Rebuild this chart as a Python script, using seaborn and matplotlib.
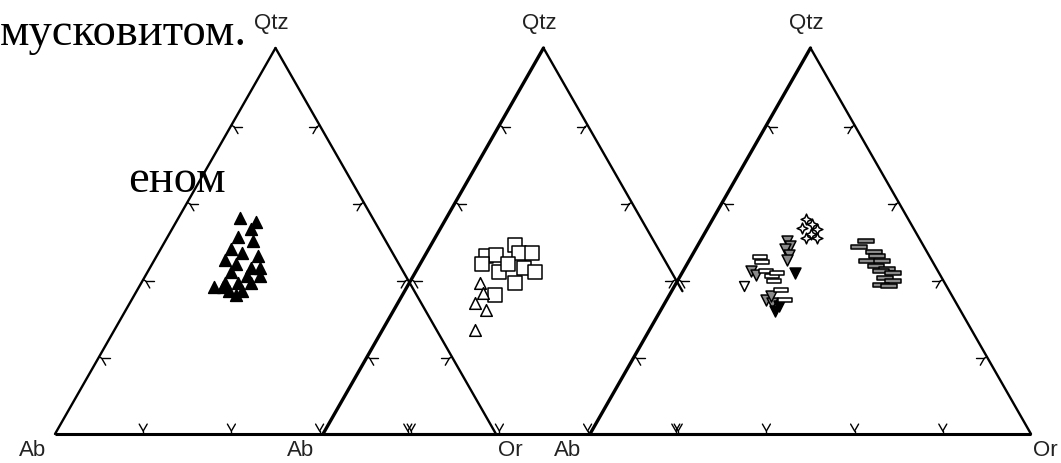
import numpy as np
import pandas as pd
import seaborn as sns
import matplotlib.pyplot as plt
from matplotlib.path import Path

sns.set_style("white")
plt.rcParams["font.family"] = ["Liberation Sans", "DejaVu Sans"]

# compositions in % (Qtz, Or); Ab is the remainder
# diagram 1
d1_tri_qtz = [56, 55, 53, 51, 50, 48, 47, 46, 45, 44, 43, 43, 42, 41, 41, 39, 39, 39, 38, 38, 37, 37, 36]
d1_tri_or = [14, 18, 18, 16, 20, 16, 19, 23, 16, 19, 23, 25, 19, 23, 26, 19, 22, 25, 17, 19, 21, 24, 23]

# diagram 2
d2_sq_qtz = [49, 47, 47, 46, 46.5, 44, 42, 44, 43, 42, 39, 36]
d2_sq_or = [19, 21, 24, 14, 16, 14, 19, 20, 24, 27, 24, 21]
d2_tri_qtz = [39, 36.5, 34, 32, 27]
d2_tri_or = [16, 18, 17.5, 21, 21]

# diagram 3
d3_star_qtz = [55.6, 54.3, 53.4, 53, 51.7, 50.8, 50.8]
d3_star_or = [21.1, 23.2, 21.4, 25, 24.2, 23.5, 26.1]
d3_gray_tri_qtz = [50, 48.7, 47.8, 46.5, 45.2, 42.2, 41.3, 34.8, 33.9, 35.7]
d3_gray_tri_or = [19.7, 21.1, 20.4, 21.8, 22.1, 15.3, 16.9, 22.4, 24.3, 23.1]
d3_black_tri_qtz = [41.7, 33.1, 31.9]
d3_black_tri_or = [25.7, 26.2, 26.1]
d3_white_tri_qtz = [38.3]
d3_white_tri_or = [15.7]
d3_white_bar_qtz = [45.8, 44.6, 42.2, 40.9, 41.7, 39.7, 37.2, 34.8]
d3_white_bar_or = [15.7, 16.7, 18.7, 20.9, 21.6, 21.8, 24.6, 26.9]
d3_gray_bar_qtz = [50, 48.5, 47.1, 46.1, 44.8, 44.8, 43.5, 42.8, 42.2, 41.6, 40.4, 39.6, 38.7, 38.3]
d3_gray_bar_or = [37.5, 36.7, 40.9, 42.1, 40.5, 43.9, 43.0, 46.0, 44.8, 47.8, 46.8, 48.8, 46.6, 48.7]

ORIGINS = [55, 323, 590]   # x of the Ab corner of each diagram (pixels)
BASE_Y = 434
SIDE = 441
HEIGHT = 386


def to_xy(qtz, orc, x0):
    q = np.asarray(qtz, float) / 100
    o = np.asarray(orc, float) / 100
    return pd.DataFrame({"x": x0 + SIDE * (o + q / 2), "y": BASE_Y - HEIGHT * q})


def draw_triangle(ax, x0, lw_left=1.7, lw_right=1.7, right_stop=0.0, or_label=True):
    A = np.array([x0, BASE_Y], float)
    O = np.array([x0 + SIDE, BASE_Y], float)
    Q = np.array([x0 + SIDE / 2, BASE_Y - HEIGHT], float)
    R = O + right_stop * (Q - O)
    ax.plot([A[0], O[0]], [A[1], O[1]], color="black", lw=2.2, solid_capstyle="butt")
    ax.plot([A[0], Q[0]], [A[1], Q[1]], color="black", lw=lw_left)
    ax.plot([Q[0], R[0]], [Q[1], R[1]], color="black", lw=lw_right)
    s3 = np.sqrt(3) / 2
    edges = [
        (A, O, (0, -1), [(-0.5, -s3), (0.5, -s3)], 0),
        (A, Q, (s3, 0.5), [(1, 0), (0.5, s3)], 0),
        (O, Q, (-s3, 0.5), [(-1, 0), (-0.5, s3)], right_stop),
    ]
    for start, end, n, arms, stop in edges:
        for f in [0.2, 0.4, 0.6, 0.8]:
            if f < stop:
                continue
            p = start + f * (end - start)
            c = p + 3 * np.array(n)
            ax.plot([p[0], c[0]], [p[1], c[1]], color="black", lw=1.0)
            for d in arms:
                e = c + 8 * np.array(d)
                ax.plot([c[0], e[0]], [c[1], e[1]], color="black", lw=1.0)
    lab = dict(fontsize=16, color="#222222")
    ax.text(Q[0] - 4, Q[1] - 24, "Qtz", ha="center", va="center", **lab)
    ax.text(A[0] - 9, BASE_Y + 16, "Ab", ha="right", va="center", **lab)
    if or_label:
        ax.text(O[0] + 2, BASE_Y + 16, "Or", ha="left", va="center", **lab)


bar = Path([(-1, -0.32), (1, -0.32), (1, 0.32), (-1, 0.32), (-1, -0.32)],
           [Path.MOVETO, Path.LINETO, Path.LINETO, Path.LINETO, Path.CLOSEPOLY])
star4 = Path([(0, 1), (0.3, 0.3), (1, 0), (0.3, -0.3), (0, -1), (-0.3, -0.3),
              (-1, 0), (-0.3, 0.3), (0, 1)],
             [Path.MOVETO] + [Path.LINETO] * 7 + [Path.CLOSEPOLY])

fig = plt.figure(figsize=(10.61, 4.63), dpi=100)
ax = fig.add_axes([0, 0, 1, 1])

draw_triangle(ax, ORIGINS[0], or_label=True)
draw_triangle(ax, ORIGINS[1], lw_left=2.4, right_stop=0.37, or_label=False)
draw_triangle(ax, ORIGINS[2], lw_left=2.4)

series = [
    (d1_tri_qtz, d1_tri_or, 0, "^", "black", 72),
    (d2_sq_qtz, d2_sq_or, 1, "s", "white", 95),
    (d2_tri_qtz, d2_tri_or, 1, "^", "white", 70),
    (d3_star_qtz, d3_star_or, 2, star4, "white", 60),
    (d3_gray_tri_qtz, d3_gray_tri_or, 2, "v", "#8a8a8a", 62),
    (d3_black_tri_qtz, d3_black_tri_or, 2, "v", "black", 62),
    (d3_white_tri_qtz, d3_white_tri_or, 2, "v", "white", 50),
    (d3_white_bar_qtz, d3_white_bar_or, 2, bar, "white", 110),
    (d3_gray_bar_qtz, d3_gray_bar_or, 2, bar, "#8a8a8a", 125),
]
for qtz, orc, k, mk, fc, size in series:
    df = to_xy(qtz, orc, ORIGINS[k])
    sns.scatterplot(data=df, x="x", y="y", ax=ax, marker=mk, color=fc,
                    edgecolor="black", linewidth=1.1, s=size, legend=False, zorder=3)
ax.set_xlim(0, 1061)
ax.set_ylim(463, 0)
ax.axis("off")

serif = ["Liberation Serif", "DejaVu Serif"]
ax.text(0, 45, "мусковитом.", fontsize=33.5, family=serif,
        ha="left", va="baseline", color="black")
ax.text(128, 192, "еном", fontsize=33.5, family=serif,
        ha="left", va="baseline", color="black")

fig.savefig("out.png", dpi=100, facecolor="white")
